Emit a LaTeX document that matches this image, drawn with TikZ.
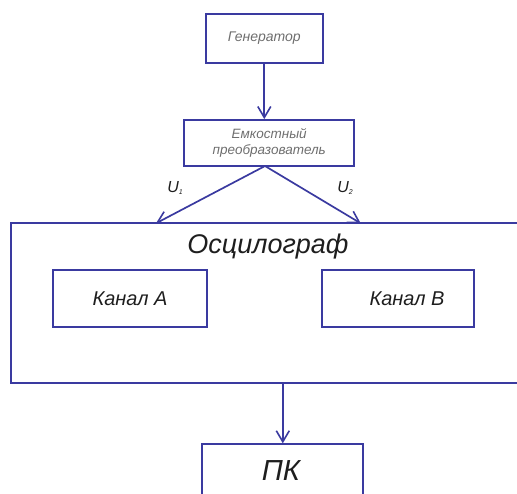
\documentclass[tikz,border=0pt]{standalone}
\usepackage{fontspec}
\setmainfont{Liberation Sans}
\usetikzlibrary{arrows.meta}
\definecolor{lineblue}{RGB}{58,58,160}
\definecolor{txtgray}{RGB}{110,110,110}
\definecolor{txtdark}{RGB}{30,30,30}
\tikzset{
  blk/.style={draw=lineblue, line width=1.8pt, inner sep=0pt, font=\itshape},
  conn/.style={draw=lineblue, line width=1.7pt, -{Straight Barb[length=11pt,width=13pt,line width=1.6pt]}},
  lbl/.style={font=\itshape, text=txtdark, inner sep=0pt}
}
\begin{document}
\begin{tikzpicture}[x=1pt,y=-1pt]
\useasboundingbox (0,0) rectangle (517,493);
\clip (0,0) rectangle (517,493);
\node[blk, minimum width=116.7pt, minimum height=49pt, text=txtgray, font=\itshape\fontsize{14}{16}\selectfont] (gen) at (264.3,38.5) {Генератор};
\node[blk, minimum width=169.7pt, minimum height=45.7pt, text=txtgray, align=center, font=\itshape\fontsize{13.5}{16}\selectfont] (conv) at (269.2,142.8) {Емкостный\\преобразователь};
\node[blk, minimum width=519pt, minimum height=159.4pt] (osc) at (270.5,303) {};
\node[lbl, font=\itshape\fontsize{27}{30}\selectfont] (osct) at (268,246.7) {Осцилограф};
\node[blk, minimum width=153.4pt, minimum height=57.3pt, text=txtdark, font=\itshape\fontsize{20}{22}\selectfont] (kA) at (130,298.7) {Канал А};
\node[blk, minimum width=152.6pt, minimum height=57.3pt, text=txtdark, font=\itshape\fontsize{20}{22}\selectfont] (kB) at (398,298.7) {\hspace{18pt}Канал В};
\node[blk, minimum width=161pt, minimum height=66.7pt, anchor=north] (pk) at (282.8,443.3) {};
\node[lbl, font=\itshape\fontsize{29}{32}\selectfont] (pkt) at (281,471) {ПК};
\coordinate (apex) at (265,166);
\coordinate (tipA) at (156,223.3);
\coordinate (tipB) at (360.7,223.3);
\draw[conn] (gen.south) -- (gen.south |- conv.north);
\draw[conn] (apex) -- (tipA);
\draw[conn] (apex) -- (tipB);
\draw[conn] (pk.north |- osc.south) -- (pk.north);
\node[lbl, font=\itshape\fontsize{16}{18}\selectfont] (u1) at (175,188) {U\raisebox{-2pt}{\fontsize{7}{7}\selectfont 1}};
\node[lbl, font=\itshape\fontsize{16}{18}\selectfont] (u2) at (345,188) {U\raisebox{-2pt}{\fontsize{7}{7}\selectfont 2}};
\end{tikzpicture}
\end{document}
